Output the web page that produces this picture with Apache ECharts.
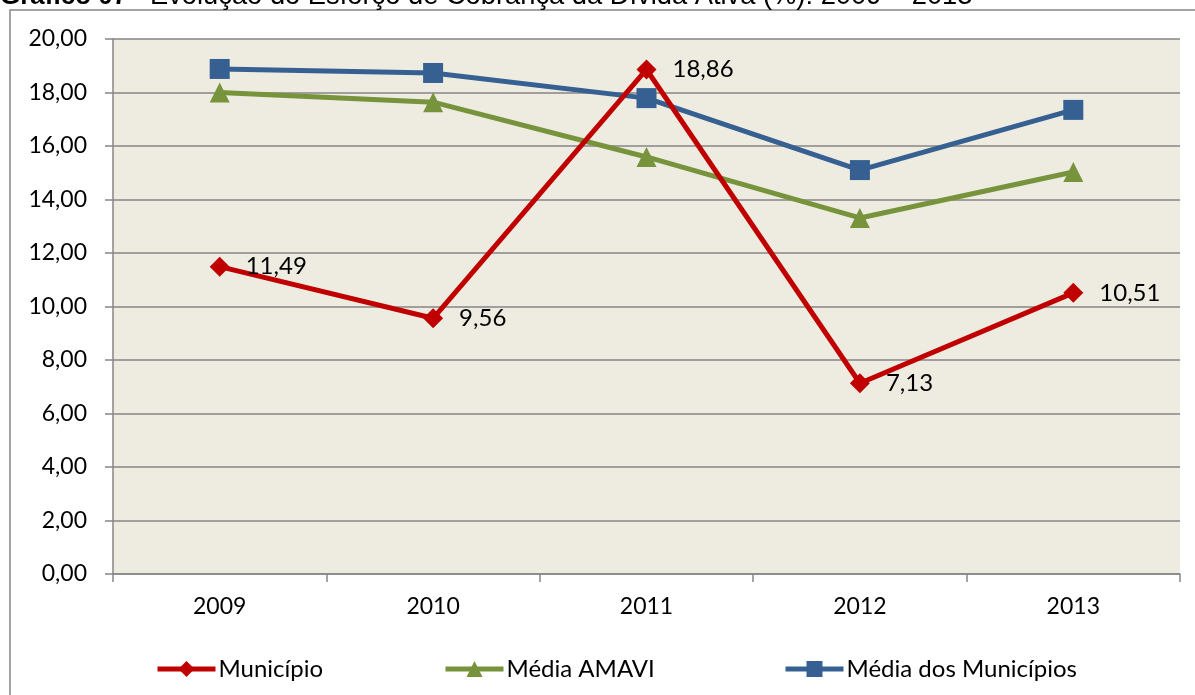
<!DOCTYPE html>
<html>
<head>
<meta charset="utf-8">
<script src="https://cdn.jsdelivr.net/npm/echarts@6/dist/echarts.min.js"></script>
<style>
  html, body { margin: 0; padding: 0; background: #fff; }
  #main { width: 1195px; height: 695px; }
</style>
</head>
<body>
<div id="main"></div>
<script>
// dados do gráfico
var anos = ['2009', '2010', '2011', '2012', '2013'];
var municipio = [11.49, 9.56, 18.86, 7.13, 10.51];
var mediaAmavi = [18.00, 17.64, 15.59, 13.31, 15.03];
var mediaMunicipios = [18.88, 18.73, 17.79, 15.10, 17.35];
var nomes = ['Município', 'Média AMAVI', 'Média dos Municípios'];

var fonte = 'Lato, "Open Sans", sans-serif';
var cinza = '#868686';
var fonteTitulo = '"Liberation Sans", Arial, sans-serif';

function virgula(v) {
    return v.toFixed(2).replace('.', ',');
}

var myChart = echarts.init(document.getElementById('main'));

var option = {
    backgroundColor: '#ffffff',
    animation: false,
    textStyle: { fontFamily: fonte },
    graphic: [
        // moldura do gráfico
        {
            type: 'rect',
            shape: { x: 10, y: 10, width: 1200, height: 700 },
            style: { fill: 'none', stroke: cinza, lineWidth: 1.5 },
            z: -1
        },
        // título cortado no topo
        {
            type: 'text',
            left: 0,
            top: -16,
            style: { text: 'Gráfico 07', font: 'bold 26px ' + fonteTitulo, fill: '#000' }
        },
        {
            type: 'text',
            left: 112,
            top: -16,
            style: { text: '–', font: '26px ' + fonteTitulo, fill: '#000' }
        },
        {
            type: 'text',
            left: 150,
            top: -17,
            style: {
                text: 'Evolução do Esforço de Cobrança da Dívida Ativa (%): 2009 – 2013',
                font: '27.3px ' + fonteTitulo,
                fill: '#000'
            }
        }
    ],
    grid: {
        left: 113,
        right: 15,
        top: 39,
        bottom: 121,
        show: true,
        backgroundColor: '#EEECE1',
        borderWidth: 0
    },
    legend: [
        { data: [nomes[0]], left: 150, top: 652 },
        { data: [nomes[1]], left: 438, top: 652 },
        { data: [nomes[2]], left: 778, top: 652 }
    ].map(function (l) {
        l.itemWidth = 58;
        l.itemHeight = 20;
        l.itemGap = 4;
        l.lineStyle = { width: 5 };
        l.textStyle = { fontFamily: fonte, fontSize: 24, color: '#000', padding: [0, 0, 0, -2] };
        return l;
    }),
    xAxis: {
        type: 'category',
        data: anos,
        boundaryGap: true,
        axisLine: { lineStyle: { color: cinza, width: 1.5 } },
        axisTick: { show: true, length: 8, lineStyle: { color: cinza, width: 1.5 } },
        axisLabel: { color: '#000', fontSize: 23, fontFamily: fonte, margin: 21 }
    },
    yAxis: {
        type: 'value',
        min: 0,
        max: 20,
        interval: 2,
        axisLine: { show: true, lineStyle: { color: cinza, width: 1.5 } },
        axisTick: { show: true, length: 8, lineStyle: { color: cinza, width: 1.5 } },
        axisLabel: { color: '#000', fontSize: 23, fontFamily: fonte, margin: 26, formatter: virgula },
        splitLine: { lineStyle: { color: cinza, width: 1.5 } }
    },
    series: [
        {
            name: nomes[0],
            type: 'line',
            data: municipio,
            symbol: 'diamond',
            symbolSize: 20,
            itemStyle: { color: '#C00000' },
            lineStyle: { color: '#C00000', width: 5 },
            label: {
                show: true,
                position: 'right',
                distance: 16,
                color: '#000',
                fontSize: 24,
                fontFamily: fonte,
                formatter: function (p) { return virgula(p.value); }
            },
            z: 4
        },
        {
            name: nomes[1],
            type: 'line',
            data: mediaAmavi,
            symbol: 'triangle',
            symbolSize: 20,
            itemStyle: { color: '#77933C' },
            lineStyle: { color: '#77933C', width: 5 },
            z: 2
        },
        {
            name: nomes[2],
            type: 'line',
            data: mediaMunicipios,
            symbol: 'rect',
            symbolSize: 20,
            itemStyle: { color: '#376092' },
            lineStyle: { color: '#376092', width: 5 },
            z: 3
        }
    ]
};

myChart.setOption(option);
</script>
</body>
</html>
